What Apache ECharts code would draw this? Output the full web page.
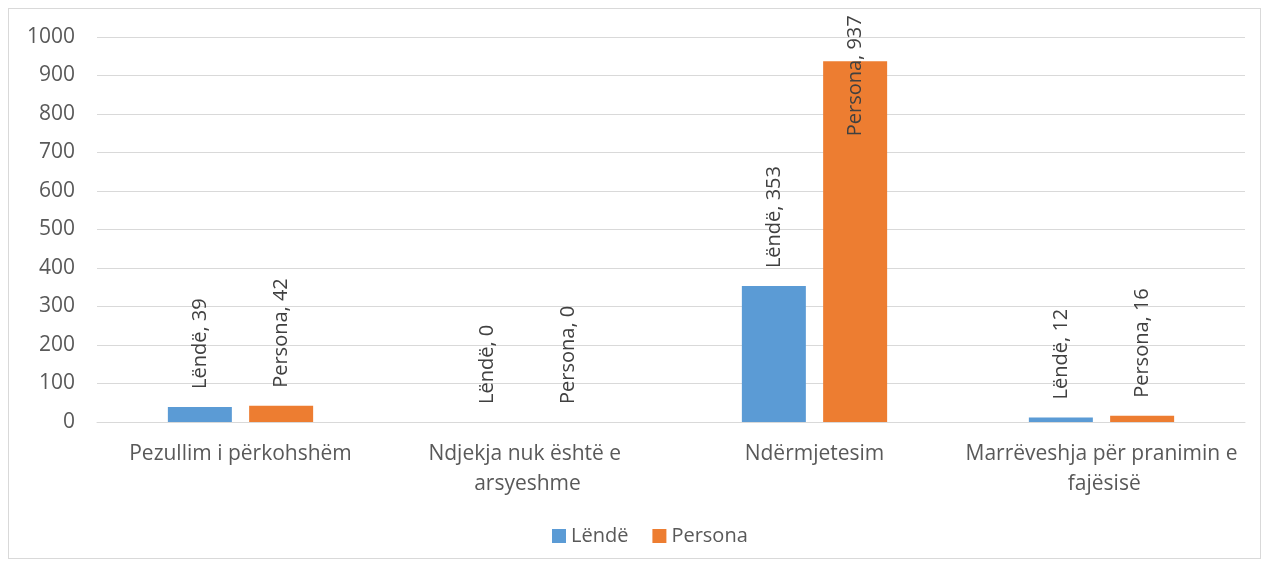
<!DOCTYPE html>
<html>
<head>
<meta charset="utf-8">
<script src="https://cdn.jsdelivr.net/npm/echarts@6/dist/echarts.min.js"></script>
<style>
  html, body { margin: 0; padding: 0; background: #fff; }
  #frame { position: absolute; left: 8px; top: 8px; width: 1253px; height: 551px; border: 1px solid #d9d9d9; box-sizing: border-box; }
  #chart { position: absolute; left: 0; top: 0; width: 1270px; height: 568px; }
</style>
</head>
<body>
<div id="frame"></div>
<div id="chart"></div>
<script>
const categories = ['Pezullim i përkohshëm', 'Ndjekja nuk është e arsyeshme', 'Ndërmjetesim', 'Marrëveshja për pranimin e fajësisë']
const lendeValues = [39, 0, 353, 12]
const personaValues = [42, 0, 937, 16]
const yTicks = { min: 0, max: 1000, interval: 100 }

const font = 'Open Sans'
const textColor = '#595959'

const chart = echarts.init(document.getElementById('chart'), null, { renderer: 'canvas' })

// labels that would run past the top of the plot hang down from just above the bar instead
function withLabels(values) {
  return values.map(v => v > 700 ? { value: v, label: { align: 'right', distance: 46 } } : v)
}

const barLabel = {
  show: true,
  position: 'top',
  rotate: 90,
  align: 'left',
  verticalAlign: 'middle',
  distance: 18,
  formatter: '{a}, {c}',
  color: '#404040',
  fontFamily: font,
  fontSize: 20
}

chart.setOption({
  animation: false,
  textStyle: { fontFamily: font },
  grid: { left: 97, right: 25, top: 37, bottom: 146 },
  legend: {
    bottom: 17,
    left: 547,
    icon: 'rect',
    itemWidth: 14,
    itemHeight: 14,
    itemGap: 24,
    textStyle: { color: textColor, fontSize: 20, fontFamily: font },
    data: ['Lëndë', 'Persona']
  },
  xAxis: {
    type: 'category',
    data: categories,
    axisLine: { lineStyle: { color: '#d9d9d9' } },
    axisTick: { show: false },
    axisLabel: {
      color: textColor,
      fontSize: 21,
      fontFamily: font,
      margin: 17,
      lineHeight: 30,
      width: 294,
      overflow: 'break',
      interval: 0
    }
  },
  yAxis: {
    type: 'value',
    min: yTicks.min,
    max: yTicks.max,
    interval: yTicks.interval,
    axisLine: { show: false },
    axisTick: { show: false },
    splitLine: { lineStyle: { color: '#d9d9d9', width: 1 } },
    axisLabel: {
      color: textColor,
      fontSize: 21,
      fontFamily: font,
      margin: 22,
      formatter: v => String(v)
    }
  },
  series: [
    {
      name: 'Lëndë',
      type: 'bar',
      data: withLabels(lendeValues),
      barWidth: 64,
      barGap: '27%',
      itemStyle: { color: '#5b9bd5' },
      label: barLabel
    },
    {
      name: 'Persona',
      type: 'bar',
      data: withLabels(personaValues),
      barWidth: 64,
      itemStyle: { color: '#ed7d31' },
      label: barLabel
    }
  ]
})
</script>
</body>
</html>
